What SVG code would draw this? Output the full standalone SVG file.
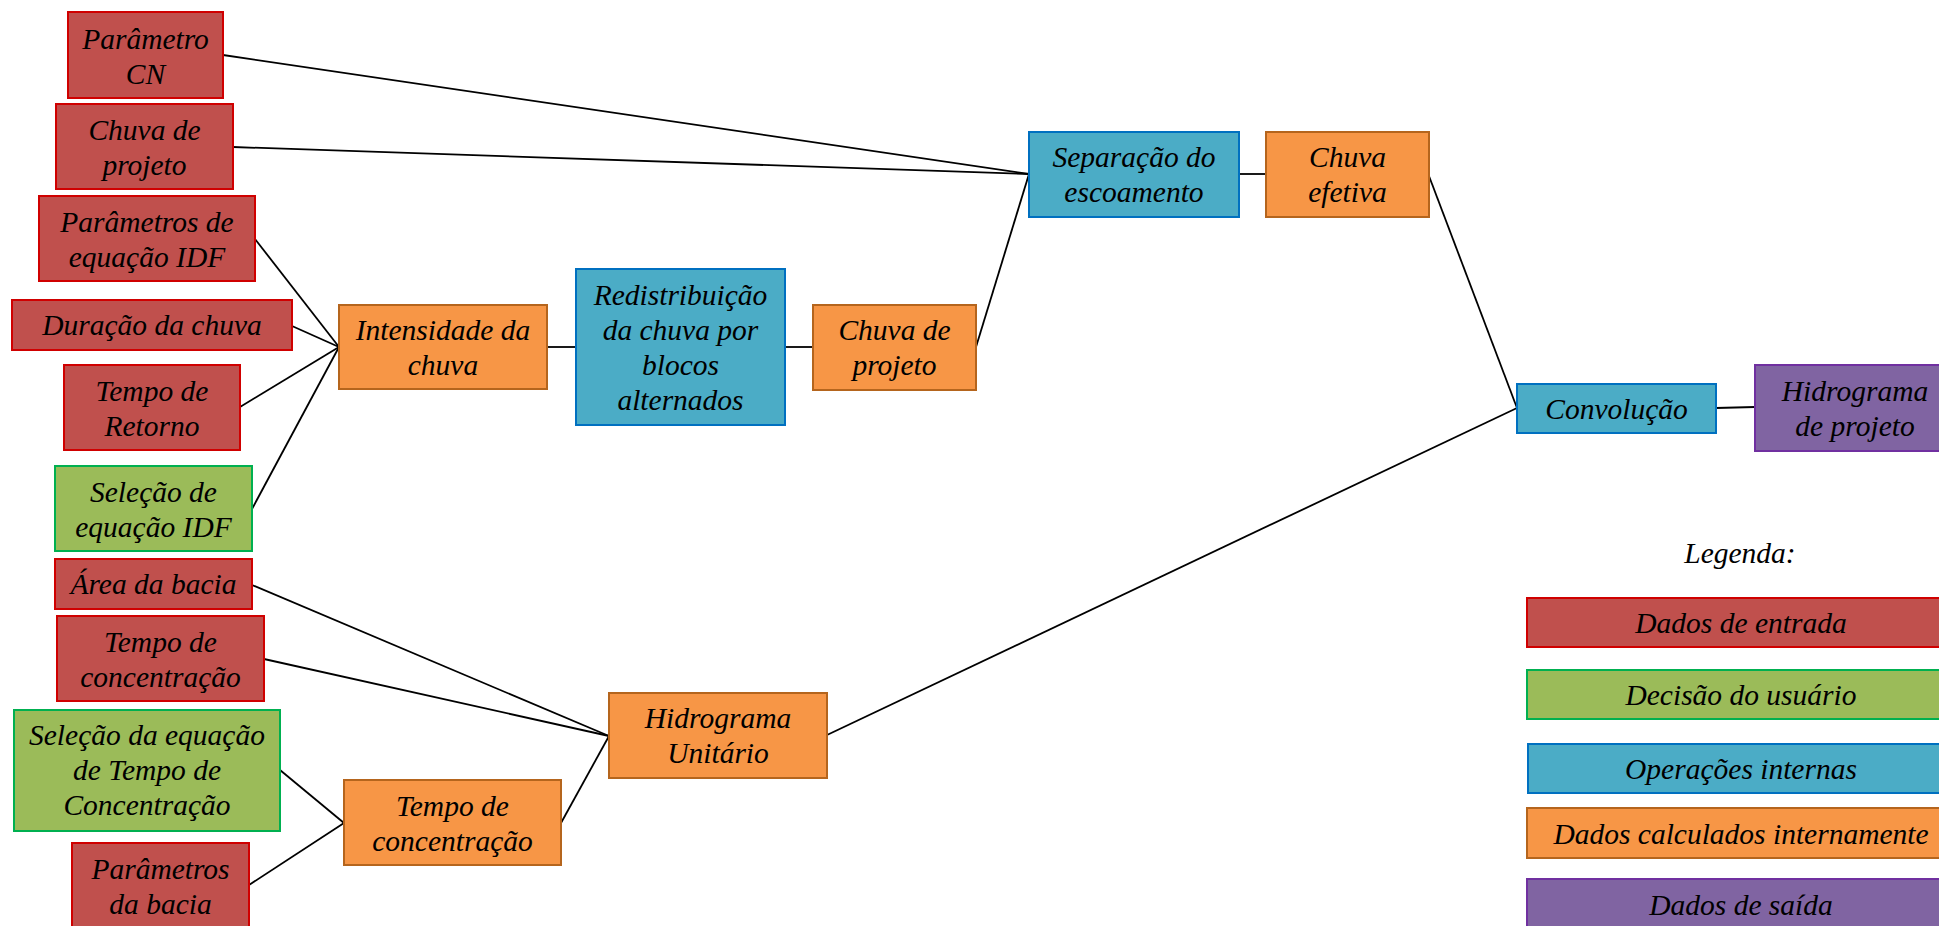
<svg xmlns="http://www.w3.org/2000/svg" width="1939" height="926" viewBox="0 0 1939 926">
<style>
text{font-family:"Liberation Serif","Times New Roman",serif;font-style:italic;font-size:29.5px;fill:#000;text-anchor:middle}
.red{fill:#C0504D;stroke:#D00000;stroke-width:2}
.green{fill:#9BBB59;stroke:#00B050;stroke-width:2}
.blue{fill:#4BACC6;stroke:#0070C0;stroke-width:2}
.orange{fill:#F79646;stroke:#B5651D;stroke-width:2}
.purple{fill:#8064A2;stroke:#7030A0;stroke-width:2}
#connectors line{stroke:#000;stroke-width:1.8}
</style>
<rect width="1939" height="926" fill="#fff"/>
<g id="connectors">
<line x1="223" y1="55" x2="1029" y2="174"/>
<line x1="233" y1="147" x2="1029" y2="174"/>
<line x1="255" y1="239" x2="339" y2="347"/>
<line x1="292" y1="326" x2="339" y2="347"/>
<line x1="240" y1="407" x2="339" y2="347"/>
<line x1="252" y1="509" x2="339" y2="347"/>
<line x1="547" y1="347" x2="576" y2="347"/>
<line x1="785" y1="347" x2="813" y2="347"/>
<line x1="976" y1="347" x2="1029" y2="174"/>
<line x1="1239" y1="174" x2="1266" y2="174"/>
<line x1="1429" y1="176" x2="1517" y2="408"/>
<line x1="1716" y1="408" x2="1755" y2="407"/>
<line x1="827" y1="735" x2="1517" y2="408"/>
<line x1="252" y1="585" x2="609" y2="736"/>
<line x1="264" y1="659" x2="609" y2="736"/>
<line x1="561" y1="823" x2="609" y2="736"/>
<line x1="280" y1="770" x2="344" y2="823"/>
<line x1="249" y1="885" x2="344" y2="823"/>
</g>
<g id="n-parametro-cn"><rect class="red" x="68" y="12" width="155" height="86"/><text x="145.5" y="48.5">Parâmetro</text><text x="145.5" y="83.5">CN</text></g>
<g id="n-chuva-projeto-in"><rect class="red" x="56" y="104" width="177" height="85"/><text x="144.5" y="139.5">Chuva de</text><text x="144.5" y="174.5">projeto</text></g>
<g id="n-parametros-idf"><rect class="red" x="39" y="196" width="216" height="85"/><text x="147" y="231.5">Parâmetros de</text><text x="147" y="266.5">equação IDF</text></g>
<g id="n-duracao"><rect class="red" x="12" y="300" width="280" height="50"/><text x="152" y="334.5">Duração da chuva</text></g>
<g id="n-tempo-retorno"><rect class="red" x="64" y="365" width="176" height="85"/><text x="152" y="400.5">Tempo de</text><text x="152" y="435.5">Retorno</text></g>
<g id="n-selecao-idf"><rect class="green" x="55" y="466" width="197" height="85"/><text x="153.5" y="501.5">Seleção de</text><text x="153.5" y="536.5">equação IDF</text></g>
<g id="n-area-bacia"><rect class="red" x="55" y="559" width="197" height="50"/><text x="153.5" y="593.5">Área da bacia</text></g>
<g id="n-tc-in"><rect class="red" x="57" y="616" width="207" height="85"/><text x="160.5" y="651.5">Tempo de</text><text x="160.5" y="686.5">concentração</text></g>
<g id="n-selecao-tc"><rect class="green" x="14" y="710" width="266" height="121"/><text x="147" y="744.5">Seleção da equação</text><text x="147" y="779.5">de Tempo de</text><text x="147" y="814.5">Concentração</text></g>
<g id="n-parametros-bacia"><rect class="red" x="72" y="843" width="177" height="90"/><text x="160.5" y="878.5">Parâmetros</text><text x="160.5" y="913.5">da bacia</text></g>
<g id="n-intensidade"><rect class="orange" x="339" y="305" width="208" height="84"/><text x="443" y="339.5">Intensidade da</text><text x="443" y="374.5">chuva</text></g>
<g id="n-redistribuicao"><rect class="blue" x="576" y="269" width="209" height="156"/><text x="680.5" y="304.5">Redistribuição</text><text x="680.5" y="339.5">da chuva por</text><text x="680.5" y="374.5">blocos</text><text x="680.5" y="409.5">alternados</text></g>
<g id="n-chuva-projeto"><rect class="orange" x="813" y="305" width="163" height="85"/><text x="894.5" y="339.5">Chuva de</text><text x="894.5" y="374.5">projeto</text></g>
<g id="n-separacao"><rect class="blue" x="1029" y="132" width="210" height="85"/><text x="1134" y="166.5">Separação do</text><text x="1134" y="201.5">escoamento</text></g>
<g id="n-chuva-efetiva"><rect class="orange" x="1266" y="132" width="163" height="85"/><text x="1347.5" y="166.5">Chuva</text><text x="1347.5" y="201.5">efetiva</text></g>
<g id="n-convolucao"><rect class="blue" x="1517" y="384" width="199" height="49"/><text x="1616.5" y="418.5">Convolução</text></g>
<g id="n-hidrograma-projeto"><rect class="purple" x="1755" y="365" width="202" height="86"/><text x="1855" y="400.5">Hidrograma</text><text x="1855" y="435.5">de projeto</text></g>
<g id="n-hidrograma-unitario"><rect class="orange" x="609" y="693" width="218" height="85"/><text x="718" y="727.5">Hidrograma</text><text x="718" y="762.5">Unitário</text></g>
<g id="n-tc-calc"><rect class="orange" x="344" y="780" width="217" height="85"/><text x="452.5" y="815.5">Tempo de</text><text x="452.5" y="850.5">concentração</text></g>
<g id="legend">
<text x="1740" y="562.5">Legenda:</text>
<rect class="red" x="1527" y="598" width="430" height="49"/><text x="1741" y="632.5">Dados de entrada</text>
<rect class="green" x="1527" y="670" width="430" height="49"/><text x="1741" y="704.5">Decisão do usuário</text>
<rect class="blue" x="1528" y="744" width="430" height="49"/><text x="1741" y="778.5">Operações internas</text>
<rect class="orange" x="1527" y="808" width="430" height="50"/><text x="1741" y="843.5">Dados calculados internamente</text>
<rect class="purple" x="1527" y="879" width="430" height="60"/><text x="1741" y="914.5">Dados de saída</text>
</g>
</svg>
